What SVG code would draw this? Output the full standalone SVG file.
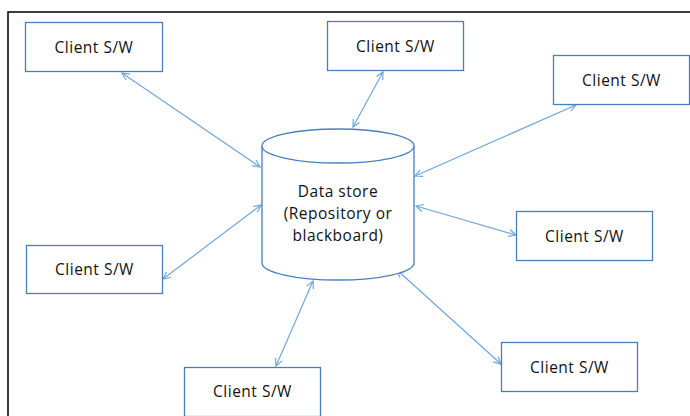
<svg xmlns="http://www.w3.org/2000/svg" width="690" height="416" viewBox="0 0 690 416">
  <defs>
    <style>
      .box { fill: #ffffff; stroke: #4a7ebb; stroke-width: 1.3; }
      .cyl { fill: #ffffff; stroke: #4a7ebb; stroke-width: 1.3; }
      .lbl { font-family: "Open Sans", "Liberation Sans", sans-serif; font-size: 15.5px; fill: #111111; text-anchor: middle; letter-spacing: 0.5px; }
      .conn { stroke: #6fa6dc; stroke-width: 1.2; fill: none; marker-start: url(#ah); marker-end: url(#ah); }
      .frame { stroke: #000000; stroke-width: 1.5; fill: none; }
    </style>
    <marker id="ah" viewBox="0 0 10 10" refX="9" refY="5" markerWidth="9" markerHeight="9" markerUnits="userSpaceOnUse" orient="auto-start-reverse">
      <path d="M1,1 L9,5 L1,9" fill="none" stroke="#6fa6dc" stroke-width="1.3"/>
    </marker>
  </defs>
  <rect width="690" height="416" fill="#ffffff"/>
  <path class="frame" d="M8,416 L8,12 L690,12"/>

  <g id="connectors">
    <line class="conn" x1="122" y1="73" x2="260" y2="167"/>
    <line class="conn" x1="383" y1="72" x2="353" y2="127"/>
    <line class="conn" x1="576" y1="105" x2="415" y2="176"/>
    <line class="conn" x1="416" y1="206" x2="516" y2="235"/>
    <line class="conn" x1="397" y1="270" x2="501" y2="364"/>
    <line class="conn" x1="313" y1="281" x2="276" y2="366"/>
    <line class="conn" x1="261" y1="205" x2="163" y2="279"/>
  </g>

  <g id="datastore">
    <path class="cyl" d="M262,146 L262,263 A76,17 0 0 0 414,263 L414,146"/>
    <ellipse class="cyl" cx="338" cy="146" rx="76" ry="17"/>
    <text class="lbl" x="338" y="197">Data store</text>
    <text class="lbl" x="338" y="219">(Repository or</text>
    <text class="lbl" x="338" y="241">blackboard)</text>
  </g>

  <g id="client-top-left">
    <rect class="box" x="25.5" y="22.5" width="137" height="49"/>
    <text class="lbl" x="94" y="52.5">Client S/W</text>
  </g>
  <g id="client-top-center">
    <rect class="box" x="327.5" y="21.5" width="136" height="49"/>
    <text class="lbl" x="395.5" y="51.5">Client S/W</text>
  </g>
  <g id="client-top-right">
    <rect class="box" x="553.5" y="55.5" width="136" height="49"/>
    <text class="lbl" x="621.5" y="85.5">Client S/W</text>
  </g>
  <g id="client-right">
    <rect class="box" x="516.5" y="211.5" width="136" height="49"/>
    <text class="lbl" x="584.5" y="241.5">Client S/W</text>
  </g>
  <g id="client-bottom-right">
    <rect class="box" x="501.5" y="342.5" width="136" height="49"/>
    <text class="lbl" x="569.5" y="372.5">Client S/W</text>
  </g>
  <g id="client-bottom-center">
    <rect class="box" x="184.5" y="367.5" width="136" height="49"/>
    <text class="lbl" x="252.5" y="397">Client S/W</text>
  </g>
  <g id="client-left">
    <rect class="box" x="26.5" y="245.5" width="136" height="48"/>
    <text class="lbl" x="94.5" y="275">Client S/W</text>
  </g>
</svg>
